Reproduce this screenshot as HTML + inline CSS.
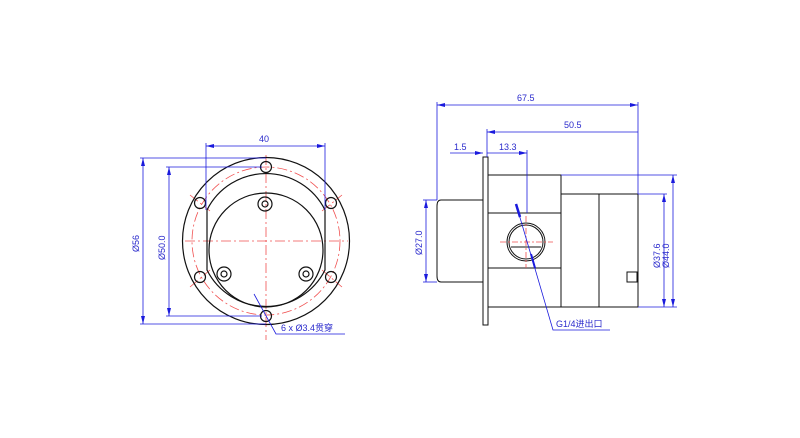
<!DOCTYPE html>
<html><head><meta charset="utf-8"><style>
html,body{margin:0;padding:0;background:#fff;}
svg{display:block}
text{font-family:"Liberation Sans","Noto Sans CJK SC",sans-serif;font-size:9px;fill:#2a2acc;}
</style></head><body>
<svg width="800" height="438" viewBox="0 0 800 438" xmlns="http://www.w3.org/2000/svg">
<defs>
<marker id="a" markerWidth="8" markerHeight="4" refX="8" refY="2" orient="auto-start-reverse" markerUnits="userSpaceOnUse"><path d="M0,0 L8,2 L0,4z" fill="#1a1add"/></marker>
</defs>
<!-- LEFT VIEW -->
<g fill="none" stroke="#f05050" stroke-width="0.8" stroke-dasharray="10,3,2,3">
<circle cx="266" cy="241" r="74"/>
<line x1="266" y1="155" x2="266" y2="340"/>
<line x1="185" y1="241" x2="348" y2="241"/>
<line x1="190" y1="195" x2="210" y2="211"/>
<line x1="322" y1="211" x2="342" y2="195"/>
<line x1="190" y1="287" x2="210" y2="270"/>
<line x1="322" y1="270" x2="342" y2="287"/>
</g>
<g fill="none" stroke="#111" stroke-width="1.2">
<circle cx="266" cy="241" r="83.5"/>
<path d="M207,210 A66,66 0 0 1 325,210 L325,270 A66,66 0 0 1 207,270 Z"/>
<circle cx="266" cy="250" r="57"/>
<circle cx="266" cy="167" r="5.5"/><circle cx="266" cy="316" r="5.5"/>
<circle cx="200" cy="203" r="5.5"/><circle cx="331" cy="203" r="5.5"/>
<circle cx="200" cy="277" r="5.5"/><circle cx="331" cy="277" r="5.5"/>
<circle cx="265" cy="204" r="7"/><circle cx="265" cy="204" r="3"/>
<circle cx="224" cy="274" r="7"/><circle cx="224" cy="274" r="3"/>
<circle cx="306" cy="274" r="7"/><circle cx="306" cy="274" r="3"/>
</g>
<g fill="none" stroke="#1a1add" stroke-width="0.8">
<line x1="206" y1="146" x2="325" y2="146" marker-start="url(#a)" marker-end="url(#a)"/>
<line x1="206" y1="143" x2="206" y2="210"/><line x1="325" y1="143" x2="325" y2="210"/>
<line x1="143" y1="158" x2="143" y2="324" marker-start="url(#a)" marker-end="url(#a)"/>
<line x1="140" y1="158" x2="266" y2="158"/><line x1="140" y1="324" x2="266" y2="324"/>
<line x1="169" y1="167" x2="169" y2="316" marker-start="url(#a)" marker-end="url(#a)"/>
<line x1="166" y1="167" x2="262" y2="167"/><line x1="166" y1="316" x2="262" y2="316"/>
<polyline points="254,294 276,334 345,334"/>
</g>
<text x="259" y="142">40</text>
<text transform="translate(139,252) rotate(-90)">Ø56</text>
<text transform="translate(165,260) rotate(-90)">Ø50.0</text>
<text x="281" y="331">6 x  Ø3.4贯穿</text>
<!-- RIGHT VIEW -->
<g fill="none" stroke="#111" stroke-width="1">
<rect x="483" y="157" width="5" height="168"/>
<path d="M441,200 L483,200 L483,282 L441,282 Q437,282 437,276 L437,206 Q437,200 441,200 Z"/>
<rect x="488" y="175" width="73" height="132"/>
<line x1="488" y1="213" x2="561" y2="213"/><line x1="488" y1="268" x2="561" y2="268"/>
<rect x="561" y="194" width="38" height="113"/>
<rect x="599" y="194" width="39" height="113"/>
<rect x="627" y="272" width="10" height="10"/>
<circle cx="526" cy="242" r="19"/><circle cx="526" cy="242" r="17"/>
<line x1="511" y1="247" x2="541" y2="247"/>
</g>
<g fill="none" stroke="#f05050" stroke-width="0.8" stroke-dasharray="6,2,2,2">
<line x1="500" y1="242" x2="553" y2="242"/><line x1="526" y1="216" x2="526" y2="268"/>
</g>
<g fill="none" stroke="#1a1add" stroke-width="0.8">
<line x1="437" y1="105" x2="638" y2="105" marker-start="url(#a)" marker-end="url(#a)"/>
<line x1="437" y1="102" x2="437" y2="200"/><line x1="638" y1="102" x2="638" y2="194"/>
<line x1="487" y1="132" x2="638" y2="132" marker-start="url(#a)"/>
<line x1="487" y1="129" x2="487" y2="157"/>
<line x1="450" y1="153" x2="483" y2="153" marker-end="url(#a)"/>
<line x1="487" y1="153" x2="527" y2="153" marker-end="url(#a)"/>
<line x1="527" y1="150" x2="527" y2="213"/>
<line x1="426" y1="200" x2="426" y2="282" marker-start="url(#a)" marker-end="url(#a)"/>
<line x1="423" y1="200" x2="437" y2="200"/><line x1="423" y1="282" x2="437" y2="282"/>
<line x1="664" y1="194" x2="664" y2="307" marker-start="url(#a)" marker-end="url(#a)"/>
<line x1="673" y1="175" x2="673" y2="307" marker-start="url(#a)" marker-end="url(#a)"/>
<line x1="561" y1="175" x2="677" y2="175"/><line x1="638" y1="194" x2="667" y2="194"/>
<line x1="638" y1="307" x2="677" y2="307"/>
<polyline points="516,204 553,330 610,330"/>
</g>
<line x1="516" y1="204" x2="520" y2="217" stroke="#1a1add" stroke-width="2.5"/>
<line x1="531" y1="254" x2="535" y2="268" stroke="#1a1add" stroke-width="2"/>
<text x="517" y="101">67.5</text>
<text x="564" y="128">50.5</text>
<text x="454" y="150">1.5</text>
<text x="499" y="150">13.3</text>
<text transform="translate(422,255) rotate(-90)">Ø27.0</text>
<text transform="translate(660,268) rotate(-90)">Ø37.6</text>
<text transform="translate(669,268) rotate(-90)">Ø44.0</text>
<text x="556" y="327">G1/4进出口</text>
</svg>
</body></html>
